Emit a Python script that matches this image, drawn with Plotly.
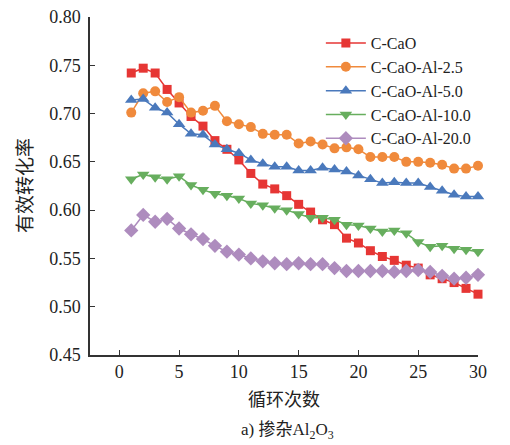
import plotly.graph_objects as go

cycles = list(range(1, 31))

c_cao = [0.742, 0.747, 0.742, 0.725, 0.711, 0.697, 0.687, 0.672, 0.663, 0.652,
         0.638, 0.627, 0.622, 0.615, 0.606, 0.598, 0.590, 0.585, 0.571, 0.566,
         0.558, 0.552, 0.548, 0.543, 0.540, 0.533, 0.529, 0.525, 0.519, 0.513]
al_2_5 = [0.701, 0.721, 0.723, 0.712, 0.717, 0.701, 0.703, 0.708, 0.692, 0.689,
          0.686, 0.679, 0.678, 0.678, 0.669, 0.671, 0.668, 0.664, 0.665, 0.663,
          0.655, 0.655, 0.655, 0.650, 0.650, 0.649, 0.647, 0.643, 0.643, 0.646]
al_5_0 = [0.714, 0.715, 0.706, 0.701, 0.689, 0.679, 0.678, 0.668, 0.663, 0.659,
          0.652, 0.648, 0.645, 0.645, 0.641, 0.641, 0.644, 0.642, 0.640, 0.636,
          0.632, 0.628, 0.629, 0.628, 0.628, 0.624, 0.620, 0.616, 0.614, 0.614]
al_10_0 = [0.632, 0.637, 0.634, 0.632, 0.635, 0.626, 0.621, 0.617, 0.615, 0.612,
           0.607, 0.605, 0.602, 0.600, 0.596, 0.592, 0.592, 0.590, 0.585, 0.584,
           0.581, 0.578, 0.579, 0.576, 0.567, 0.562, 0.563, 0.560, 0.559, 0.557]
al_20_0 = [0.579, 0.595, 0.588, 0.591, 0.581, 0.575, 0.570, 0.563, 0.557, 0.554,
           0.550, 0.547, 0.545, 0.544, 0.545, 0.544, 0.544, 0.540, 0.537, 0.537,
           0.537, 0.537, 0.536, 0.537, 0.538, 0.536, 0.532, 0.529, 0.530, 0.533]

series_names = ["C-CaO", "C-CaO-Al-2.5", "C-CaO-Al-5.0", "C-CaO-Al-10.0", "C-CaO-Al-20.0"]
series_values = [c_cao, al_2_5, al_5_0, al_10_0, al_20_0]
colors = ["#E63634", "#F08A3C", "#4A79BC", "#67AE5E", "#AE8CBE"]
symbols = ["square", "circle", "triangle-up", "triangle-down", "diamond"]
sizes = [9, 10, 11, 11, 11]

y_ticks = [0.45, 0.50, 0.55, 0.60, 0.65, 0.70, 0.75, 0.80]
x_ticks = [0, 5, 10, 15, 20, 25, 30]

SERIF = "Liberation Serif, Times New Roman, serif"
CJK = "Noto Sans CJK SC, sans-serif"

fig = go.Figure()
for name, vals, col, sym, sz in zip(series_names, series_values, colors, symbols, sizes):
    fig.add_trace(go.Scatter(
        x=cycles, y=vals, name=name, mode="lines+markers",
        line=dict(color=col, width=1.5),
        marker=dict(symbol=sym, size=sz, color=col),
        cliponaxis=False,
    ))

fig.update_layout(
    width=502, height=437,
    margin=dict(l=82, r=32, t=9, b=90, autoexpand=False),
    paper_bgcolor="white", plot_bgcolor="white",
    showlegend=True,
    legend=dict(
        x=0.595, y=0.973, xanchor="left", yanchor="top",
        bgcolor="rgba(0,0,0,0)",
        font=dict(family=SERIF, size=16, color="#222"),
        tracegroupgap=0, itemwidth=40,
    ),
    xaxis=dict(
        range=[-2.45, 30], tickvals=x_ticks, ticks="inside", ticklen=5,
        tickcolor="#333", tickwidth=1.2,
        showline=True, linecolor="#333", linewidth=1.5, mirror=False,
        showgrid=False, zeroline=False, automargin=False,
        ticklabeloverflow="allow",
        tickfont=dict(family=SERIF, size=18, color="#222"),
        ticklabelstandoff=0,
        title=dict(text="循环次数", font=dict(family=CJK, size=18, color="#222"), standoff=12),
    ),
    yaxis=dict(
        range=[0.45, 0.80], tickvals=y_ticks, tickformat=".2f", ticks="inside", ticklen=5,
        tickcolor="#333", tickwidth=1.2,
        showline=True, linecolor="#333", linewidth=1.5, mirror=False,
        showgrid=False, zeroline=False, automargin=False,
        ticklabeloverflow="allow",
        tickfont=dict(family=SERIF, size=18, color="#222"),
        ticklabelstandoff=4,
    ),
)

fig.add_annotation(
    text="有效转化率",
    xref="paper", yref="paper", x=-0.172, y=0.501, xanchor="center", yanchor="middle",
    textangle=-90, showarrow=False,
    font=dict(family=CJK, size=19, color="#222"),
)

fig.add_annotation(
    text="a) 掺杂Al<sub>2</sub>O<sub>3</sub>",
    xref="paper", yref="paper", x=0.509, y=-0.226, xanchor="center", yanchor="middle",
    showarrow=False, font=dict(family="Liberation Serif, Noto Sans CJK SC", size=17, color="#222"),
)

fig.write_html("out.html")
